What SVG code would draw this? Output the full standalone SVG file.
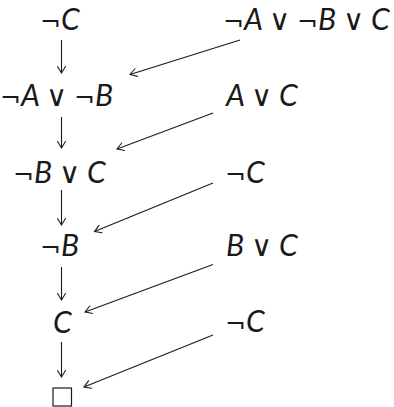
<svg xmlns="http://www.w3.org/2000/svg" width="394" height="407" viewBox="0 0 394 407">
<style>
text { font-family: "Lato", "DejaVu Sans", sans-serif; font-size: 30px; font-style: italic; fill: #1a1a1a; }
.s { font-family: "DejaVu Sans", sans-serif; font-size: 25px; font-style: normal; }
.o { font-family: "DejaVu Sans", sans-serif; font-size: 29px; font-style: normal; font-weight: 200; }
.e { stroke: #1a1a1a; stroke-width: 1.1; fill: none; marker-end: url(#arr); }
</style>
<defs>
<marker id="arr" viewBox="-8 -5 10 10" markerWidth="10" markerHeight="10" refX="0" refY="0" orient="auto" markerUnits="userSpaceOnUse">
<path d="M -6.5,-4 Q -2,-1.2 0,0 Q -2,1.2 -6.5,4" stroke="#1a1a1a" stroke-width="1.1" fill="none" stroke-linecap="round"/>
</marker>
</defs>
<g id="n1"><text x="40" y="30"><tspan class="s">¬</tspan>C</text></g>
<g id="r1"><text x="223" y="30"><tspan class="s">¬</tspan>A <tspan class="o">∨</tspan> <tspan class="s">¬</tspan>B <tspan class="o">∨</tspan> C</text></g>
<g id="n2"><text x="0" y="106"><tspan class="s">¬</tspan>A <tspan class="o">∨</tspan> <tspan class="s">¬</tspan>B</text></g>
<g id="r2"><text x="226" y="106">A <tspan class="o">∨</tspan> C</text></g>
<g id="n3"><text x="13" y="183"><tspan class="s">¬</tspan>B <tspan class="o">∨</tspan> C</text></g>
<g id="r3"><text x="225" y="183"><tspan class="s">¬</tspan>C</text></g>
<g id="n4"><text x="40" y="256"><tspan class="s">¬</tspan>B</text></g>
<g id="r4"><text x="226" y="256">B <tspan class="o">∨</tspan> C</text></g>
<g id="n5"><text x="53" y="333">C</text></g>
<g id="r5"><text x="225" y="332"><tspan class="s">¬</tspan>C</text></g>
<g id="n6"><rect x="53" y="388" width="18.5" height="18" fill="none" stroke="#1a1a1a" stroke-width="1.2"/></g>
<g id="edges">
<line class="e" x1="61.5" y1="40" x2="61.5" y2="73"/>
<line class="e" x1="61.5" y1="117" x2="61.5" y2="148"/>
<line class="e" x1="61.5" y1="190" x2="61.5" y2="225"/>
<line class="e" x1="61.5" y1="267" x2="61.5" y2="300"/>
<line class="e" x1="61.5" y1="342" x2="61.5" y2="377"/>
<line class="e" x1="240" y1="40" x2="130" y2="74.5"/>
<line class="e" x1="213" y1="113" x2="117" y2="149"/>
<line class="e" x1="213" y1="183" x2="94.5" y2="231.5"/>
<line class="e" x1="213" y1="264.5" x2="85" y2="312"/>
<line class="e" x1="213" y1="335" x2="84" y2="387"/>
</g>
</svg>
